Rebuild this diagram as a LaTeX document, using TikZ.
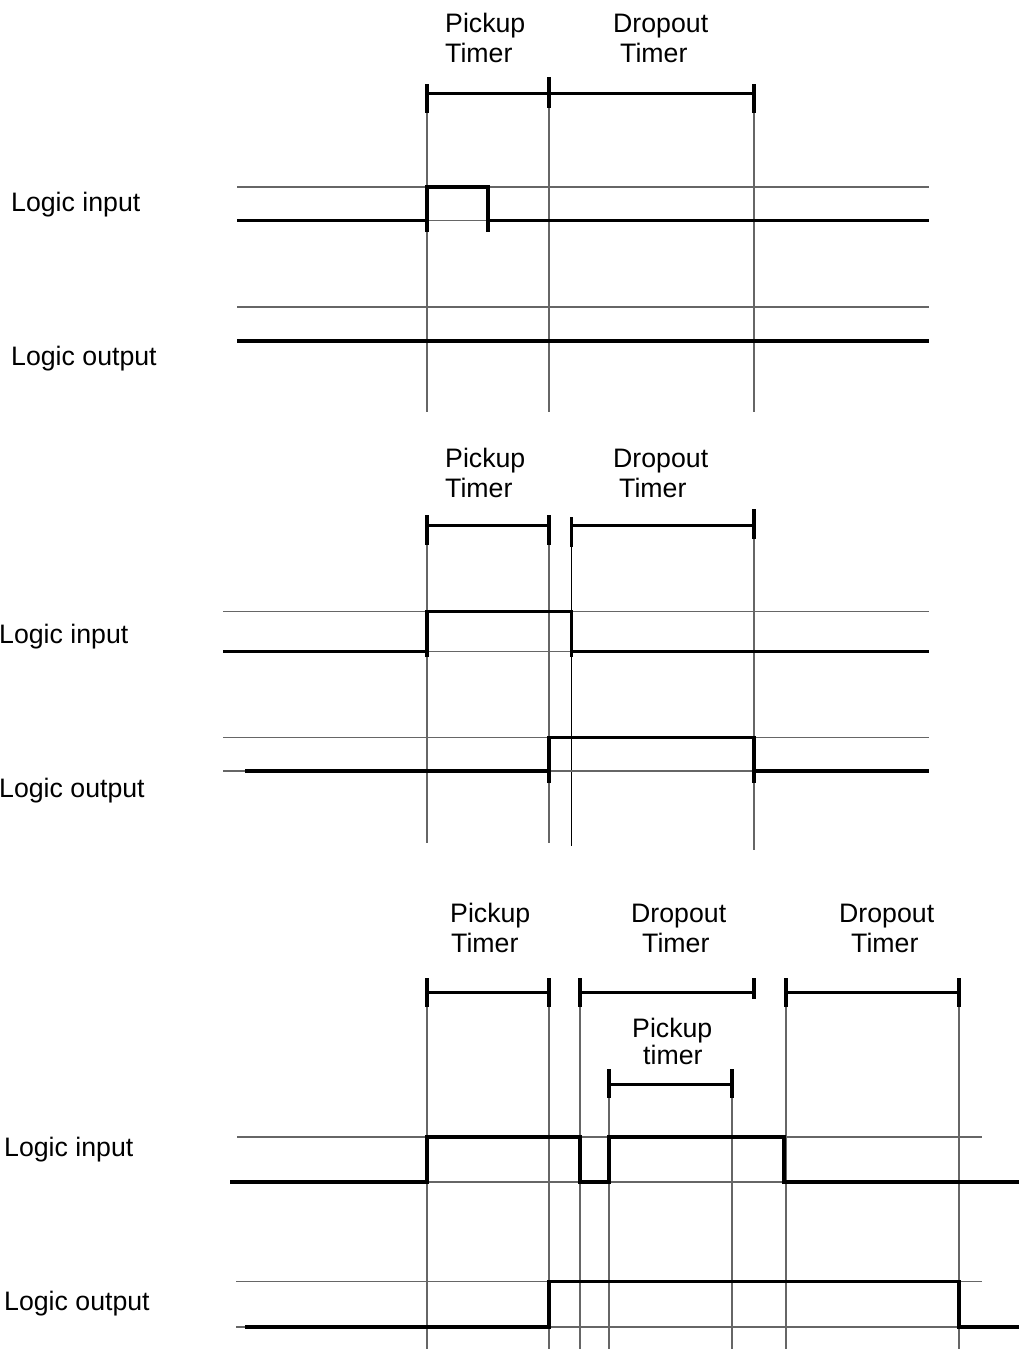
\documentclass[tikz,border=0pt]{standalone}
\usepackage{fontspec}
\setmainfont{Liberation Sans}
\begin{document}
\begin{tikzpicture}[x=1pt,y=-1pt,
  thinl/.style={line width=1.1pt,black!60},
  sig/.style={line width=3.4pt,line join=miter,line cap=butt},
  barl/.style={line width=3pt},
  tickl/.style={line width=3.6pt},
  txt/.style={font=\fontsize{26.7}{30}\selectfont,inner sep=0pt,anchor=base west}]
\useasboundingbox (0,0) rectangle (1019,1349);
\fill[white] (0,0) rectangle (1019,1349);

% ================= Panel 1 =================
\node[txt] (a1) at (445,32) {Pickup};
\node[txt] (a2) at (445,62) {Timer};
\node[txt] (b1) at (613,32) {Dropout};
\node[txt] (b2) at (620,62) {Timer};
\node[txt] (li1) at (11,211) {Logic input};
\node[txt] (lo1) at (11,365) {Logic output};
% verticals
\foreach \x in {427,549,754} \draw[thinl] (\x,95) -- (\x,412);
% rails
\draw[thinl] (237,187) -- (929,187);
\draw[thinl] (237,220.5) -- (929,220.5);
\draw[thinl] (237,307) -- (929,307);
% timer bars
\draw[barl] (427,93) -- (754,93);
\draw[tickl] (427,84) -- (427,113);
\draw[tickl] (549,77) -- (549,108);
\draw[tickl] (754,84) -- (754,113);
% signals
\draw[sig] (237,220.5) -- (427,220.5);
\draw[sig] (427,232) -- (427,187) -- (488,187) -- (488,232);
\draw[sig] (488,220.5) -- (929,220.5);
\draw[sig] (237,341) -- (929,341);

% ================= Panel 2 =================
\node[txt] (c1) at (445,467) {Pickup};
\node[txt] (c2) at (445,497) {Timer};
\node[txt] (d1) at (613,467) {Dropout};
\node[txt] (d2) at (619,497) {Timer};
\node[txt] (li2) at (-1,643) {Logic input};
\node[txt] (lo2) at (-1,797) {Logic output};
\foreach \x in {427,549} \draw[thinl] (\x,530) -- (\x,843);
\draw[thinl,black] (571.5,530) -- (571.5,846);
\draw[thinl] (754,530) -- (754,850);
\draw[thinl] (223,611.5) -- (929,611.5);
\draw[thinl] (223,651.5) -- (929,651.5);
\draw[thinl] (223,737.5) -- (929,737.5);
\draw[thinl] (223,771) -- (929,771);
\draw[barl] (427,525) -- (549,525);
\draw[barl] (571.5,525) -- (754,525);
\draw[tickl] (427,515) -- (427,545);
\draw[tickl] (549,515) -- (549,545);
\draw[tickl] (571.5,517) -- (571.5,547);
\draw[tickl] (754,509) -- (754,539);
\draw[sig] (223,651.5) -- (427,651.5);
\draw[sig] (427,657) -- (427,611.5) -- (571.5,611.5) -- (571.5,657);
\draw[sig] (571.5,651.5) -- (929,651.5);
\draw[sig] (245,771) -- (549,771);
\draw[sig] (549,783) -- (549,737.5) -- (754,737.5) -- (754,783);
\draw[sig] (754,771) -- (929,771);

% ================= Panel 3 =================
\node[txt] (e1) at (450,922) {Pickup};
\node[txt] (e2) at (451,952) {Timer};
\node[txt] (f1) at (631,922) {Dropout};
\node[txt] (f2) at (642,952) {Timer};
\node[txt] (g1) at (839,922) {Dropout};
\node[txt] (g2) at (851,952) {Timer};
\node[txt] (h1) at (632,1037) {Pickup};
\node[txt] (h2) at (643,1064) {timer};
\node[txt] (li3) at (4,1156) {Logic input};
\node[txt] (lo3) at (4,1310) {Logic output};
\foreach \x in {427,549,580,786,959} \draw[thinl] (\x,1000) -- (\x,1349);
\foreach \x in {609,732} \draw[thinl] (\x,1090) -- (\x,1349);
\draw[thinl] (237,1137) -- (982,1137);
\draw[thinl] (230,1182) -- (1019,1182);
\draw[thinl] (236,1281.5) -- (982,1281.5);
\draw[thinl] (236,1327) -- (1019,1327);
\draw[barl] (427,992) -- (549,992);
\draw[barl] (580,992) -- (754,992);
\draw[barl] (786,992) -- (959,992);
\draw[barl] (609,1084) -- (732,1084);
\foreach \x in {427,549,580,786,959} \draw[tickl] (\x,978) -- (\x,1007);
\draw[tickl] (754,978) -- (754,999);
\foreach \x in {609,732} \draw[tickl] (\x,1069) -- (\x,1098);
\draw[sig] (230,1182) -- (427,1182) -- (427,1137) -- (580,1137) -- (580,1182) -- (609,1182) -- (609,1137) -- (784,1137) -- (784,1182) -- (1019,1182);
\draw[sig] (245,1327) -- (549,1327) -- (549,1281.5) -- (959,1281.5) -- (959,1327) -- (1019,1327);
\end{tikzpicture}
\end{document}
